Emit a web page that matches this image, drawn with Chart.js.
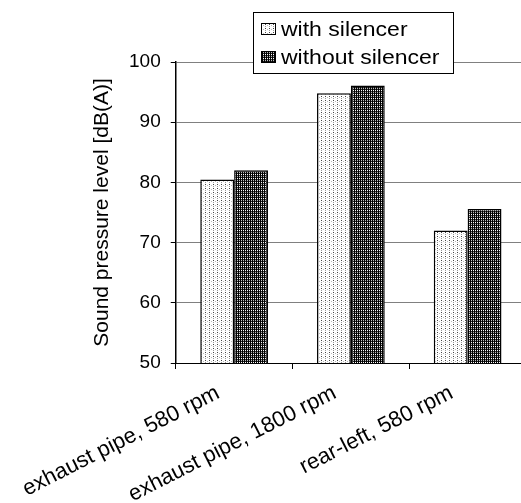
<!DOCTYPE html>
<html>
<head>
<meta charset="utf-8">
<script src="https://cdn.jsdelivr.net/npm/chart.js@4/dist/chart.umd.min.js"></script>
<style>
    html, body { margin: 0; padding: 0; background: #fff; overflow: hidden; }
</style>
</head>
<body>
<canvas id="chartRuido" width="526" height="503"></canvas>
<script>
// datos
const categorias = ['exhaust pipe, 580 rpm', 'exhaust pipe, 1800 rpm', 'rear-left, 580 rpm'];
const conSilenciador = [80.5, 94.8, 72.0];
const sinSilenciador = [82.0, 96.1, 75.6];
const etiquetasSeries = ['with silencer', 'without silencer'];
const ejeY = { min: 50, max: 100, paso: 10 };
const tituloY = 'Sound pressure level [dB(A)]';

// tramas tipo Excel
function tramaClara() {
    const c = document.createElement('canvas');
    c.width = 4; c.height = 4;
    const g = c.getContext('2d');
    g.fillStyle = '#fff';
    g.fillRect(0, 0, 4, 4);
    g.fillStyle = '#444';
    g.fillRect(1, 0, 1, 1);
    g.fillStyle = '#999';
    g.fillRect(1, 2, 1, 1);
    g.fillStyle = '#bbb';
    g.fillRect(3, 1, 1, 1);
    return g.createPattern(c, 'repeat');
}

function tramaOscura() {
    const c = document.createElement('canvas');
    c.width = 2; c.height = 4;
    const g = c.getContext('2d');
    g.fillStyle = '#000';
    g.fillRect(0, 0, 2, 4);
    const tonos = ['#bbb', '#222', '#fff', '#333'];
    tonos.forEach((t, i) => {
        g.fillStyle = t;
        g.fillRect(1, i, 1, 1);
    });
    return g.createPattern(c, 'repeat');
}

const rellenos = [tramaClara(), tramaOscura()];

// leyenda dibujada a mano dentro del area
const leyendaPlugin = {
    id: 'leyendaCaja',
    afterDraw(chart) {
        const ctx = chart.ctx;
        const x = 253.5, y = 12.5, w = 200, h = 61;
        ctx.save();
        ctx.fillStyle = '#fff';
        ctx.fillRect(x, y, w, h);
        ctx.strokeStyle = '#000';
        ctx.lineWidth = 1;
        ctx.strokeRect(x, y, w, h);
        const filas = [29, 57];
        etiquetasSeries.forEach((txt, i) => {
            const cy = filas[i];
            ctx.fillStyle = rellenos[i];
            ctx.fillRect(261, cy - 6, 14, 11);
            ctx.strokeStyle = '#000';
            ctx.strokeRect(261.5, cy - 5.5, 14, 11);
            ctx.save();
            ctx.translate(281, cy);
            ctx.scale(1.15, 1);
            ctx.fillStyle = '#000';
            ctx.font = '20px "Liberation Sans", Arial, sans-serif';
            ctx.textBaseline = 'middle';
            ctx.fillText(txt, 0, 1);
            ctx.restore();
        });
        ctx.restore();
    }
};

const fuente = '"Liberation Sans", Arial, sans-serif';

new Chart(document.getElementById('chartRuido'), {
    type: 'bar',
    data: {
        labels: categorias,
        datasets: [
            {
                label: etiquetasSeries[0],
                data: conSilenciador,
                backgroundColor: rellenos[0],
                borderColor: '#000',
                borderWidth: 1.5,
                borderSkipped: false
            },
            {
                label: etiquetasSeries[1],
                data: sinSilenciador,
                backgroundColor: rellenos[1],
                borderColor: '#000',
                borderWidth: 1.5,
                borderSkipped: false
            }
        ]
    },
    options: {
        responsive: false,
        animation: false,
        layout: { padding: { top: 62, left: 0, right: 0, bottom: 0 } },
        datasets: { bar: { categoryPercentage: 0.58, barPercentage: 1 } },
        plugins: {
            legend: { display: false },
            tooltip: { enabled: false }
        },
        scales: {
            x: {
                grid: {
                    offset: true,
                    drawOnChartArea: false,
                    tickLength: 6,
                    tickColor: '#000'
                },
                border: { color: '#000', width: 1 },
                ticks: {
                    autoSkip: false,
                    minRotation: 27,
                    maxRotation: 27,
                    color: '#000',
                    padding: 11,
                    labelOffset: -16,
                    font: { family: fuente, size: 22 }
                },
                afterFit(scale) { scale.height = 140; }
            },
            y: {
                min: ejeY.min,
                max: ejeY.max,
                grid: {
                    color: '#808080',
                    tickColor: '#000',
                    tickLength: 5,
                    lineWidth: 1
                },
                border: { color: '#000', width: 1.5 },
                ticks: {
                    stepSize: ejeY.paso,
                    color: '#000',
                    padding: 10,
                    font: { family: fuente, size: 19 }
                },
                title: {
                    display: true,
                    text: tituloY,
                    color: '#000',
                    padding: { top: 89, bottom: 0 },
                    font: { family: fuente, size: 21 }
                },
                afterFit(scale) { scale.width = 175; }
            }
        }
    },
    plugins: [leyendaPlugin]
});
</script>
</body>
</html>
